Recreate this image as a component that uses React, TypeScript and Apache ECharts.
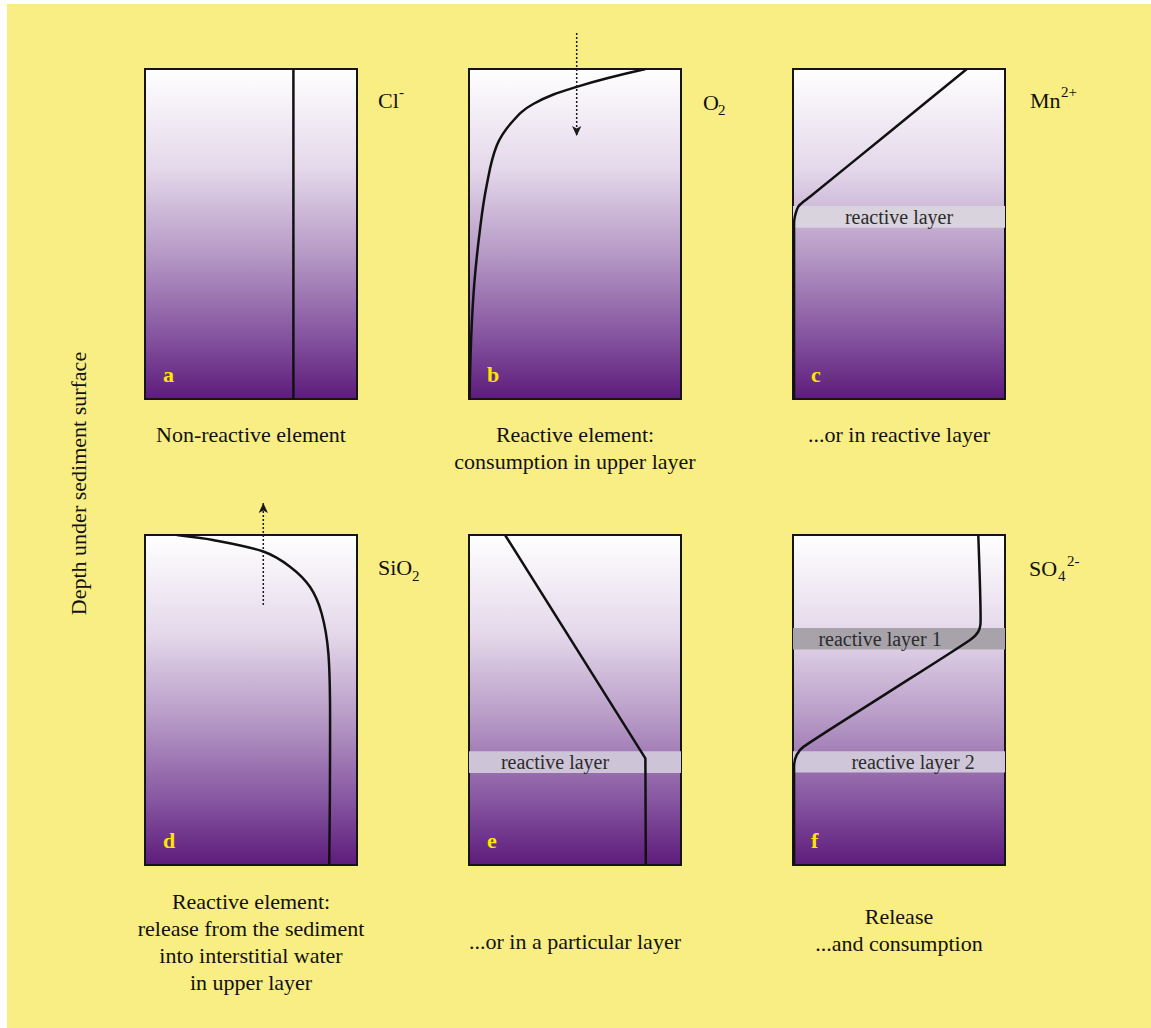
import React, { useEffect, useRef } from "react";
import * as echarts from "echarts";

// ---- data (x = relative concentration 0..100, y = depth 0..100) ----
const profileA = [[70, 0], [70, 100]];
const profileB = [[83.3, 0], [50.8, 5.4], [30.3, 10.6], [20.1, 16.2], [13.1, 23.2], [8.3, 35.4], [5.2, 48.5], [2.5, 65], [1.0, 82], [0.3, 100]];
const profileC = [[82, 0], [45, 19.4], [8.0, 38.7], [4.9, 40.2], [2.5, 41.7], [1.3, 43.7], [0.6, 45.8], [0.5, 47.8], [0.5, 60], [0.5, 100]];
const profileD = [[15, 0], [32, 1.5], [55.8, 5], [68.4, 9.6], [77.8, 15.7], [83.3, 23.7], [86.5, 35.9], [87.3, 56], [87.2, 80], [86.9, 100]];
const profileE = [[17, 0], [83.2, 67.7], [83.4, 100]];
const profileF = [[87.4, 0], [88.5, 25.8], [87.4, 29.3], [83.5, 31.8], [44.2, 48], [4.9, 64.2], [1.7, 66.7], [0.5, 70.2], [0.5, 80], [0.5, 100]];
const profiles = [profileA, profileB, profileC, profileD, profileE, profileF];
const smoothness = [0, 0.4, 0.25, 0.3, 0, 0.25];

// reactive layers
const layerPanels = [2, 4, 5, 5];
const layerFrom = [41.5, 65.5, 28.2, 65.5];
const layerTo = [48.1, 72.1, 34.7, 72.0];
const layerLabels = ["reactive layer", "reactive layer", "reactive layer 1", "reactive layer 2"];
const layerColors = ["#D9D3DE", "#CEC4D8", "#A8A3AB", "#CFC6D9"];
const layerShift = [0, -20, -19, 14];

// diffusion arrows
const arrowPanels = [1, 3];
const arrowX = [50.8, 55.8];
const arrowStart = [-10.9, 21.2];
const arrowEnd = [20.3, -9.7];

const panelLetters = ["a", "b", "c", "d", "e", "f"];
const captions = [
  "Non-reactive element",
  "Reactive element:\nconsumption in upper layer",
  "...or in reactive layer",
  "Reactive element:\nrelease from the sediment\ninto interstitial water\nin upper layer",
  "...or in a particular layer",
  "Release\n...and consumption",
];
const captionY = [434, 447.5, 434, 942, 941, 930];

const species = [
  { base: "Cl", x: 378, y: 100.5, sup: "-", supX: 399, supY: 92 },
  { base: "O", x: 703, y: 102.5, sub: "2", subX: 718, subY: 110 },
  { base: "Mn", x: 1030, y: 100.5, sup: "2+", supX: 1061, supY: 92 },
  { base: "SiO", x: 378, y: 567.5, sub: "2", subX: 412, subY: 576 },
  { base: "SO", x: 1029, y: 568.5, sub: "4", subX: 1058, subY: 576, sup: "2-", supX: 1067, supY: 561 },
];

const yAxisTitle = "Depth under sediment surface";

// ---- layout ----
const OX = 7;
const OY = 4;
const W = 1144;
const H = 1024;
const PANEL_LEFT = [145, 469, 793];
const PANEL_TOP = [69, 535];
const PW = 212;
const PH = 330;
const FONT = "Liberation Serif";

export default function App() {
  const ref = useRef<HTMLDivElement>(null);
  useEffect(() => {
    if (!ref.current) return;
    const chart = echarts.init(ref.current, null, { renderer: "svg" });
    const gradient = new echarts.graphic.LinearGradient(0, 0, 0, 1, [
      { offset: 0, color: "#FFFFFF" },
      { offset: 0.3, color: "#E4D8EA" },
      { offset: 0.55, color: "#B89CC7" },
      { offset: 0.8, color: "#8757A1" },
      { offset: 1, color: "#5D1C7B" },
    ]);
    const grids: any[] = [];
    const xAxes: any[] = [];
    const yAxes: any[] = [];
    const series: any[] = [];
    const graphics: any[] = [];
    for (let i = 0; i < 6; i++) {
      const col = i % 3;
      const row = Math.floor(i / 3);
      const left = PANEL_LEFT[col] - OX;
      const top = PANEL_TOP[row] - OY;
      grids.push({
        left,
        top,
        width: PW,
        height: PH,
        show: true,
        backgroundColor: gradient,
        borderColor: "#151515",
        borderWidth: 2,
      });
      xAxes.push({ gridIndex: i, type: "value", min: 0, max: 100, show: false });
      yAxes.push({ gridIndex: i, type: "value", min: 0, max: 100, inverse: true, show: false });

      const areas: any[] = [];
      layerPanels.forEach((p, k) => {
        if (p !== i) return;
        areas.push([
          {
            yAxis: layerFrom[k],
            itemStyle: { color: layerColors[k] },
            label: {
              show: true,
              position: "inside",
              formatter: layerLabels[k],
              color: "#2b2b2b",
              fontSize: 20,
              fontFamily: FONT,
              offset: [layerShift[k], 0],
            },
          },
          { yAxis: layerTo[k] },
        ]);
      });

      series.push({
        type: "line",
        xAxisIndex: i,
        yAxisIndex: i,
        data: profiles[i],
        smooth: smoothness[i] || false,
        showSymbol: false,
        lineStyle: { color: "#111", width: 2.5 },
        z: 3,
        markArea: areas.length ? { silent: true, data: areas } : undefined,
      });

      graphics.push({
        type: "text",
        x: left + 18,
        y: top + PH - 24.5,
        style: {
          text: panelLetters[i],
          fill: "#FFE600",
          fontSize: 22,
          fontWeight: "bold",
          fontFamily: FONT,
          align: "left",
          verticalAlign: "middle",
        },
      });
      graphics.push({
        type: "text",
        x: left + PW / 2,
        y: captionY[i] - OY,
        style: {
          text: captions[i],
          fill: "#111",
          fontSize: 22,
          lineHeight: 27,
          fontFamily: FONT,
          align: "center",
          verticalAlign: "middle",
        },
      });
    }

    arrowPanels.forEach((p, k) => {
      const down = arrowEnd[k] > arrowStart[k];
      series.push({
        type: "line",
        xAxisIndex: p,
        yAxisIndex: p,
        clip: false,
        z: 4,
        showSymbol: true,
        lineStyle: { color: "#1a1a1a", width: 1.5, type: [2, 2] },
        itemStyle: { color: "#1a1a1a" },
        data: [
          { value: [arrowX[k], arrowStart[k]], symbol: "none" },
          { value: [arrowX[k], arrowEnd[k]], symbol: "arrow", symbolSize: [7, 10], symbolRotate: down ? 180 : 0 },
        ],
      });
    });

    species.forEach((s: any) => {
      graphics.push({
        type: "text",
        x: s.x - OX,
        y: s.y - OY,
        style: { text: s.base, fill: "#111", fontSize: 22, fontFamily: FONT, align: "left", verticalAlign: "middle" },
      });
      if (s.sub) {
        graphics.push({
          type: "text",
          x: s.subX - OX,
          y: s.subY - OY,
          style: { text: s.sub, fill: "#111", fontSize: 15, fontFamily: FONT, align: "left", verticalAlign: "middle" },
        });
      }
      if (s.sup) {
        graphics.push({
          type: "text",
          x: s.supX - OX,
          y: s.supY - OY,
          style: { text: s.sup, fill: "#111", fontSize: 15, fontFamily: FONT, align: "left", verticalAlign: "middle" },
        });
      }
    });

    graphics.push({
      type: "text",
      x: 78 - OX,
      y: 483.5 - OY,
      rotation: Math.PI / 2,
      style: {
        text: yAxisTitle,
        fill: "#111",
        fontSize: 22,
        fontFamily: FONT,
        align: "center",
        verticalAlign: "middle",
      },
    });

    chart.setOption({
      animation: false,
      backgroundColor: "#F9EE83",
      grid: grids,
      xAxis: xAxes,
      yAxis: yAxes,
      series,
      graphic: graphics,
    });
    return () => chart.dispose();
  }, []);
  return (
    <div
      ref={ref}
      style={{ position: "absolute", left: OX, top: OY, width: W, height: H }}
    />
  );
}
